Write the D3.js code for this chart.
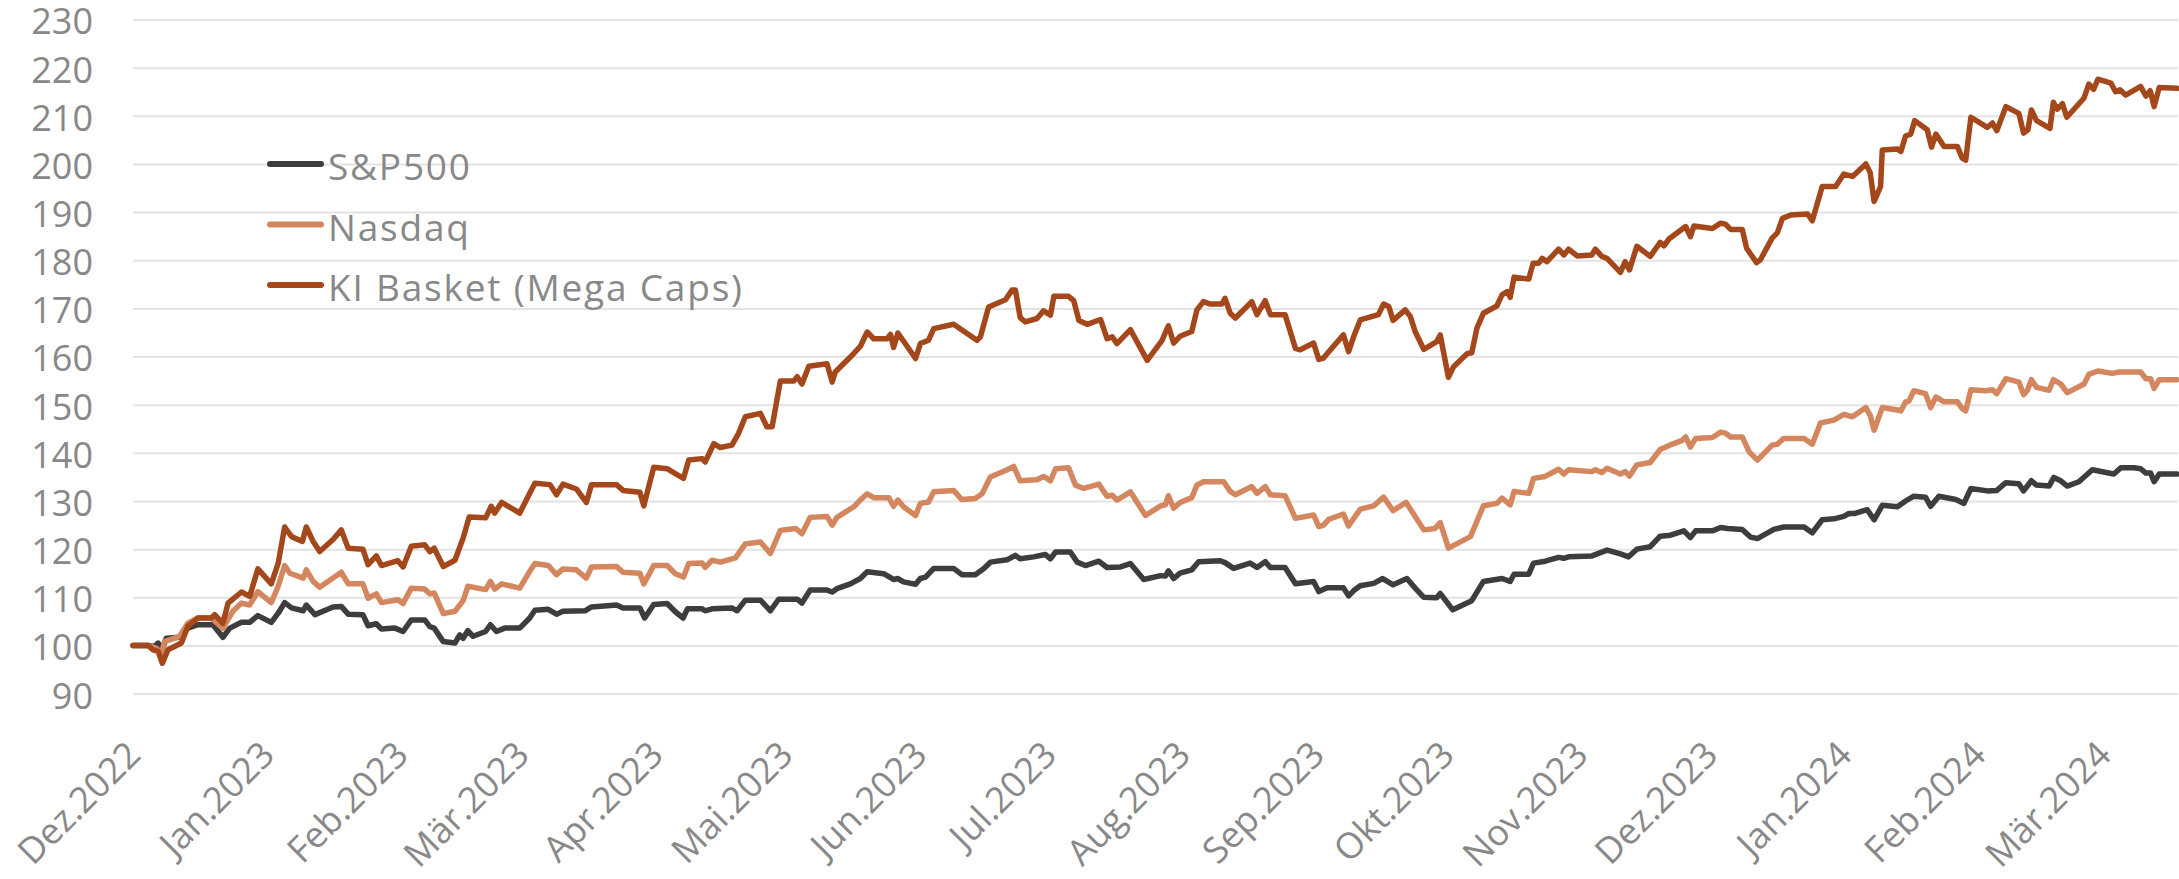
<!DOCTYPE html>
<html>
<head>
<meta charset="utf-8">
<script src="https://cdn.jsdelivr.net/npm/d3@7"></script>
<style>
  html, body { margin: 0; padding: 0; background: #ffffff; }
  svg { display: block; }
</style>
</head>
<body>
<svg id="chart" width="2179" height="879"></svg>
<script>
// ---- Data (days since 2022-12-01, index values; base = 100) ----
const startDateUTC = Date.UTC(2022, 11, 1);
const endDay = 473;

const seriesNames = ["S&P500", "Nasdaq", "KI Basket (Mega Caps)"];
const seriesColors = ["#3d3d3d", "#d4875e", "#a4471b"];

const spDays = [0,3.5,5,5.8,6.9,7.7,10.8,12.7,15,18.5,20.8,22.4,25.1,27,28.9,32,33.6,35.1,36.7,39.4,40.1,42.1,46.3,48.2,49.8,53.2,54.4,56.3,57.5,60.6,62.5,64.4,67.5,68.7,69.7,71.8,74.5,75.6,76.4,77.5,78.7,81.6,82.7,84.1,86,89.5,91.8,93,96.1,98,99.5,104.6,106.1,111.9,113.4,117.3,118.4,120.5,123.6,125.5,127.3,128.3,131.7,132.4,134,138.6,139.8,141.7,145.2,147.5,149.4,153.7,154.8,156.7,160.6,161.8,162.9,166,168.3,169.9,173.7,176,177,178.3,181.1,182.2,183.4,185.3,189.9,191.8,194.9,196.9,198.4,202.3,204.2,205.3,208.4,211.1,212.3,213.5,216.9,218.5,220.4,223.5,225.4,228.5,230.8,233.9,237.8,238.9,239.6,240.8,242.3,245,246.6,251.6,252.7,254.7,258.5,260.1,262,263.2,266.6,269,273.2,274.4,276.3,280.1,281.3,282.5,284,287.1,289.2,291.6,294.8,296.7,298.7,301.7,302.5,305.4,309.8,312.5,316.8,318.7,319.6,323,324.1,326.8,329.9,331.1,332.2,337.6,341.1,344.2,346.1,348,351.1,353.4,355.8,358.9,360.4,361.6,365.5,367.4,369,372.4,374.3,375.9,379.7,382,386.7,388.6,390.9,393.6,395.9,397.1,398.3,401.3,402.9,404.8,408.3,410.2,412.1,414.8,416,417.9,421.8,423.7,425.3,429.1,431.3,433.4,436.4,437.5,439.3,440.5,443.4,444.5,446.1,447.6,450.3,453.4,458.4,460,463.1,464.6,465.8,466.9,467.7,468.9,473];
const spValues = [100,100,99.8,100.5,99.4,101.5,101.7,103.6,104.3,104.3,101.7,103.6,104.8,104.8,106.2,104.8,106.7,108.9,107.8,107.2,108.4,106.4,108,108.1,106.5,106.4,104.1,104.5,103.4,103.6,102.9,105.3,105.3,103.9,103.6,100.8,100.5,102.2,101.5,103.1,101.9,102.9,104.3,102.9,103.6,103.6,105.7,107.3,107.5,106.5,107.1,107.2,108,108.4,107.8,107.8,105.7,108.5,108.7,107,105.7,107.6,107.6,107.2,107.6,107.8,107.2,109.4,109.4,107.2,109.6,109.6,108.8,111.5,111.5,111.1,111.8,112.8,113.9,115.3,114.9,113.7,113.9,113.2,112.7,113.9,114.2,116,116,114.7,114.7,116,117.3,117.8,118.7,118,118.4,118.9,118,119.4,119.4,117.3,116.6,117.5,116.2,116.3,117,113.7,114.5,114.4,115.5,113.9,115,115.7,117.4,117.6,117.2,116,117.1,116.2,117.4,116.2,116.2,112.8,113.3,111.2,112,112,110.3,111.4,112.4,112.9,113.9,112.6,113.9,111.9,110,109.9,110.8,107.4,109.3,113.3,113.9,113.3,114.8,114.8,117.1,117.5,118.3,118.1,118.4,118.6,119.8,119,118.4,120,120.5,122.7,122.9,123.8,122.4,123.8,123.8,124.5,124.3,124.1,122.5,122.2,124.1,124.6,124.6,123.4,126.1,126.3,126.8,127.4,127.4,128.2,126.1,129.1,128.8,130,131,130.8,128.9,131,130.3,129.5,132.6,132.1,132.2,133.8,133.6,132.1,134.2,133.3,133.1,134.9,134.2,133.1,134,136.5,135.6,136.9,136.9,136.7,135.8,135.8,134,135.6,135.6];

const ndDays = [0,3.5,5.4,6.6,7.3,10.8,12.7,15,18.1,20.8,23.1,25.1,27,28.9,32,33.6,35.1,36.3,39.4,40.1,41.7,43.2,48.2,49.8,53.2,54.4,56.3,57.5,61.3,62.5,64.4,67.5,68.7,69.7,71.8,74.5,76.4,77.5,81.6,82.7,83.7,85.3,89.5,91.8,93,96.1,98,99.5,102.6,104.9,106.1,111.9,113.4,117.3,118.2,120.5,123.6,125.5,127.4,128.6,131.7,132.4,134,135.9,139.4,141.7,145.2,147.5,149.8,153.3,154.8,156.7,160.6,161.8,162.9,166.8,168.3,169.9,171.4,174.9,176,177,178.3,181.1,182.2,184.1,185.3,189.9,191.8,194.9,196.5,198.4,202.3,203.8,205.3,209.2,210.7,212.3,213.5,216.5,218.1,220,223.5,225.4,226.6,227.7,230.8,234.3,237.8,238.9,239.6,240.8,242.3,245,246.2,247.7,252.4,253.9,255.1,258.9,260.1,262,263.2,266.6,269,273.2,274.4,275.5,276.7,280.1,281.3,282.5,284,287.1,289.4,291.6,294.6,296.7,298.7,301.3,302.5,304.4,309.5,312.5,315.6,316.8,318.7,319.6,323,324.1,326.8,329.9,331.1,332.2,337.6,338.4,339.9,341.1,344.2,345.3,346.3,348,351.1,353.4,355.6,358.5,359.3,360.4,361.6,365.5,367.4,368.5,369.7,372.4,374,375.9,379.3,380.5,382,386.7,388.6,390.5,393.6,395.9,397.9,401,402,402.9,404.8,408.3,409.1,410.2,411,412.1,414.8,416,417.2,419.1,422.2,423.3,424.1,425.3,428.7,430.3,431.3,433.4,436.4,437.5,438.4,439.3,440.5,443.4,444.4,446.1,447.6,451.5,452.6,454.7,458,459.6,464.6,465.8,466.9,467.7,468.9,473];
const ndValues = [100,100,99.4,98.4,100.8,101.9,104.6,105.7,105.7,103.6,107.1,108.8,108.4,111.2,108.9,112.3,116.6,115,114,115.7,113.3,112.1,115.2,112.8,112.8,109.8,110.7,108.9,109.5,108.7,111.9,111.7,110.7,110.9,106.6,107.1,109.3,112.3,111.6,113.3,111.7,112.8,111.9,115.4,117,116.6,114.7,115.9,115.7,114,116.3,116.4,115.2,115,112.8,116.6,116.6,114.9,114.2,117,117.1,116.2,117.7,117.3,118.2,121.1,121.5,119.1,123.9,124.3,123.2,126.6,126.8,125,126.6,128.8,130.2,131.5,130.7,130.7,128.9,130.2,128.8,127,129.5,129.8,131.9,132.2,130.3,130.5,131.5,135,136.5,137.2,134.2,134.4,135.1,134.2,136.7,136.9,133.3,132.6,133.5,131,131.2,130.2,131.9,127,129,129.2,131.1,128.5,129.7,130.7,133.3,134,134,132,131.3,133,131.6,133,131.3,131.1,126.4,127.1,124.7,125,126.2,127.3,124.8,126.4,128.3,129,130.8,128,129.7,126.8,124,124.3,125.5,120.2,122.6,129,129.5,130.6,129.2,132,131.6,134.7,135.1,136.6,135.6,136.5,136.1,136.5,135.9,136.8,135.6,136.1,135.2,137.5,138,140.7,141.6,142.6,143.3,141.2,143,143.2,144.3,144.1,143.3,143.3,140.2,138.5,141.6,141.8,143,143,141.8,146.2,146.8,148,147.5,149.4,147.8,144.7,149.4,148.9,148.7,150.6,150.8,152.9,152.3,149.4,151.6,150.6,150.6,149.2,148.7,153.1,152.9,153.1,152.3,155.4,154.7,152.1,153,155.2,153.6,153,155.2,154.3,152.5,154.3,156.3,157,156.5,156.8,156.8,155.4,155.4,153.4,155.2,155.2];

const kiDays = [0,3.5,4.6,5.8,6.8,8.1,11.2,12.7,15,18.1,18.9,20.8,22,25.1,27,28.9,32,33.6,35.1,36.7,39.2,40.1,41.7,43.2,46.3,48.2,49.8,53.2,54.4,56.3,57.5,61.3,62.5,64.4,67.5,68.7,69.7,71.8,74.5,76.4,77.8,81.6,82.9,83.7,85.3,89.5,91.8,93,96.5,98,99.5,102.6,104.9,106.1,111.9,113.4,117.3,118.2,120.5,123.6,125.5,127.4,128.6,131.7,132.4,134.4,135.9,138.6,140.1,141.7,145.2,146.7,147.9,149.8,152.9,153.7,154.8,156.4,160.6,161.8,162.5,166,168.3,169.9,171.4,174.5,175.3,176,177,181.1,182.2,184.1,185.3,189.9,195.3,196.1,198,201.9,203.4,204.2,205.3,206.5,209.2,210.7,212.3,213.1,216.5,217.7,218.9,220.8,223.9,225.4,226.6,227.7,230.8,234.7,238.1,239.6,240.8,242.3,245,246.2,247.7,249.3,252,252.7,253.9,255.1,258.9,260.1,262,263.2,266.6,269,270.1,273.2,274.4,275.5,276.7,280.1,281.3,282.5,284,288.2,289.4,290.6,291.6,294.4,295.6,296.7,298.7,301.7,302.5,304.4,305.6,308.7,309.8,311,312.5,315.6,316.8,318,318.7,319.6,323,324,325.3,326.1,327.2,329.9,331.1,332.2,334.2,337.6,338.4,339.9,341.1,344.2,345.3,346.3,348,351.1,353.4,354.3,355.4,359.3,360.4,361.2,365.5,367.4,368.5,369.7,372.4,373.4,375.7,376.6,379.3,380.5,381.7,383.6,387.5,388.6,390.9,394,395.9,397.9,401,402,402.9,404.4,404.8,408.3,409.1,410.2,411.4,412.3,415.2,416.2,417.2,419.1,422.2,423.3,424.1,425.3,429.1,430.3,431.3,433.4,436.4,437.5,438.5,439.3,440.5,443.6,444.4,445.3,446.5,447.5,451.5,452.6,453.7,454.7,457.7,458.8,459.8,461.1,464.6,465.8,466.8,467.7,468.9,473];
const kiValues = [100,100,99.1,98.8,96.3,99.1,100.5,104,105.7,105.7,106.4,104.6,108.8,111.1,110.2,115.9,112.8,117.1,124.6,122.6,121.6,124.6,121.6,119.5,122,124,120.2,120,116.8,118.6,116.6,117.6,116.3,120.6,120.9,119.5,120.2,116.4,117.7,122.3,126.7,126.5,128.9,127.5,129.7,127.5,131.6,133.7,133.4,131.3,133.5,132.5,129.7,133.4,133.4,132.2,131.8,129,137,136.7,135.7,134.7,138.5,138.8,138.1,141.9,141.1,141.6,144,147.5,148.2,145.4,145.4,154.9,154.9,155.8,154.3,158,158.5,154.7,156.8,159.9,162.1,165.1,163.7,163.7,164.6,161.9,164.9,159.6,162.7,163.4,165.8,166.7,163.4,164.1,170.3,171.8,173.8,173.8,168.1,167.2,167.9,169.5,168.6,172.5,172.5,171.6,167.5,166.7,167.7,163.7,164.1,162.7,165.6,159.2,163.3,166.4,162.8,164.2,165.2,169.7,171.4,170.9,170.9,172.1,169,168,171.4,168.7,171.6,168.7,168.7,161.7,161.4,162.8,159.4,159.7,161,164.5,161,164.2,167.6,168.7,170.9,170.4,167.5,169.7,168.3,165.2,161.5,163.1,164.5,155.7,157.9,160.6,160.8,165.9,169,170.5,172.8,173.5,172.3,176.5,176.1,179.4,179.4,180.4,179.7,182.3,181.1,182.3,180.9,181.1,182.3,180.8,180.4,177.5,179.7,178,182.9,180.8,183.7,183,184.4,187,184.9,187.1,186.6,187.7,187.5,186.4,186.4,182.5,179.5,180.1,184.6,185.7,188.7,189.4,189.6,188.2,195.3,195.3,197.9,197.4,200,198.2,192.2,195.3,202.9,203.1,202.6,205.8,206.2,209,207.1,203.5,206.2,203.6,203.6,201.2,200.8,209.7,207.6,208.5,206.9,211.9,210.5,206.4,207.1,211.2,209,207.4,212.8,211.4,212.5,209.7,213.7,216.6,215.5,217.6,216.8,215,215.4,214.3,216.1,214.1,215.2,211.9,215.9,215.7];

const yTicks = [90,100,110,120,130,140,150,160,170,180,190,200,210,220,230];
const xTickLabels = ["Dez.2022","Jan.2023","Feb.2023","Mär.2023","Apr.2023","Mai.2023","Jun.2023","Jul.2023","Aug.2023","Sep.2023","Okt.2023","Nov.2023","Dez.2023","Jan.2024","Feb.2024","Mär.2024"];

// ---- Chart ----
const toDate = d => new Date(startDateUTC + d * 864e5);
const plotLeft = 133, plotRight = 2178, lineRight = 2177;
const svg = d3.select("#chart");
svg.append("rect").attr("width", 2179).attr("height", 879).attr("fill", "#ffffff");

const x = d3.scaleUtc().domain([toDate(0), toDate(endDay)]).range([plotLeft, lineRight]);
const y = d3.scaleLinear().domain([90, 230]).range([693.6, 19.5]);

const textColor = "#888888";
const font = "'Open Sans', 'Liberation Sans', sans-serif";

// Y axis with gridlines
const yAxisG = svg.append("g")
  .attr("transform", `translate(${plotLeft},0)`)
  .call(d3.axisLeft(y).tickValues(yTicks).tickSize(-(plotRight - plotLeft)).tickPadding(40).tickFormat(d3.format("d")));
yAxisG.select(".domain").remove();
yAxisG.selectAll(".tick line").attr("stroke", "#e3e3e3").attr("stroke-width", 2);
yAxisG.selectAll(".tick text")
  .attr("fill", textColor).attr("font-family", font).attr("font-size", 36).attr("dy", "0.40em");

// X axis
const monthTicks = d3.utcMonth.range(toDate(0), toDate(endDay));
const xAxisG = svg.append("g")
  .attr("transform", "translate(0,757)")
  .call(d3.axisBottom(x).tickValues(monthTicks).tickSize(0).tickFormat((d, i) => xTickLabels[i]));
xAxisG.select(".domain").remove();
xAxisG.selectAll(".tick text")
  .attr("fill", textColor).attr("font-family", font).attr("font-size", 36)
  .attr("x", 0).attr("y", 0).attr("dy", 0)
  .attr("text-anchor", "end")
  .attr("transform", "translate(9,0) rotate(-45)");

// Lines
const seriesData = [
  d3.zip(spDays, spValues),
  d3.zip(ndDays, ndValues),
  d3.zip(kiDays, kiValues)
];
const line = d3.line().x(d => x(toDate(d[0]))).y(d => y(d[1]));
svg.append("g").selectAll("path").data(seriesData).join("path")
  .attr("d", line)
  .attr("fill", "none")
  .attr("stroke", (d, i) => seriesColors[i])
  .attr("stroke-width", 5.5)
  .attr("stroke-linejoin", "round")
  .attr("stroke-linecap", "round");

// Legend
const legendY = [164, 224.5, 285];
const legend = svg.append("g").selectAll("g").data(seriesNames).join("g")
  .attr("transform", (d, i) => `translate(0,${legendY[i]})`);
legend.append("line")
  .attr("x1", 270).attr("x2", 321).attr("y1", 0).attr("y2", 0)
  .attr("stroke", (d, i) => seriesColors[i]).attr("stroke-width", 6).attr("stroke-linecap", "round");
legend.append("text")
  .attr("x", 328).attr("y", 16)
  .attr("fill", textColor).attr("font-family", font).attr("font-size", 37)
  .attr("letter-spacing", 1.8)
  .text(d => d);
</script>
</body>
</html>
